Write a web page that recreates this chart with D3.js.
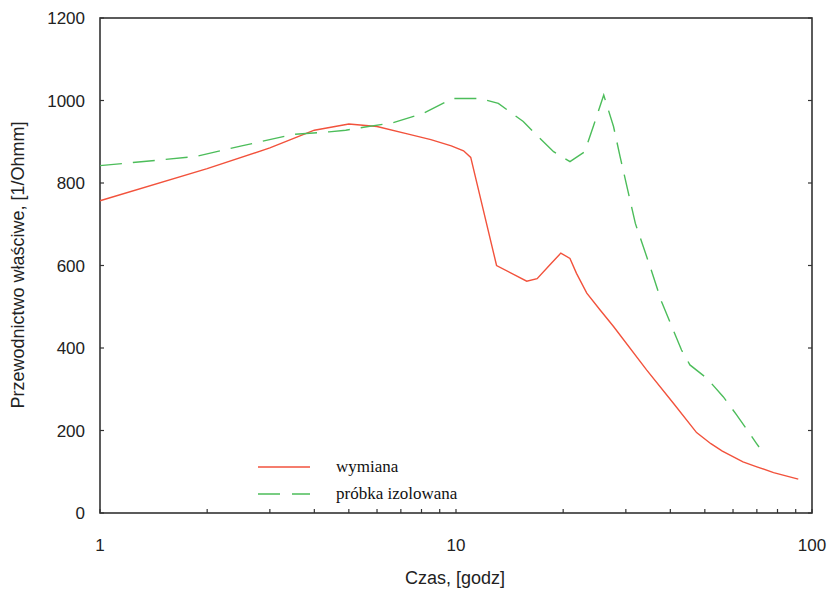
<!DOCTYPE html>
<html>
<head>
<meta charset="utf-8">
<script src="https://cdn.jsdelivr.net/npm/d3@7"></script>
<style>
  body { margin: 0; background: #fff; }
  svg { display: block; }
  .tick-label { font-family: "Liberation Sans", Arial, sans-serif; font-size: 17px; fill: #222; }
  .axis-title { font-family: "Liberation Sans", Arial, sans-serif; font-size: 18px; fill: #222; }
  .legend text { font-family: "Liberation Serif", "Times New Roman", serif; font-size: 17px; fill: #111; }
</style>
</head>
<body>
<script>
// time [h]
var wymianaX = [1, 2, 3, 3.5, 4, 5, 6, 7.3, 8.5, 9.7, 10.5, 11, 13, 15.8, 16.9, 18.5, 19.7, 20.9, 21.8, 23.3, 25.4, 27.7, 34.3, 40.8, 47.4, 52, 56, 64, 70, 78, 91.5];
var wymianaY = [757, 835, 885, 908, 928, 943, 937, 919, 905, 890, 878, 862, 600, 562, 568, 605, 630, 617, 581, 533, 492, 452, 347, 266, 195, 168, 150, 124, 112, 98, 82];

var izolX = [1, 1.85, 2.5, 3.5, 4.4, 4.9, 5.5, 6.65, 8.1, 9.8, 11.7, 13.15, 15.45, 16.85, 18.8, 20.9, 23, 24.3, 26, 27.7, 28.9, 31.9, 35.1, 37.8, 43, 45.4, 50.6, 56.3, 61.4, 69.8, 71];
var izolY = [842, 864, 890, 918, 924, 928, 935, 946, 969, 1005, 1005, 993, 949, 916, 876, 852, 876, 937, 1013, 937, 864, 702, 597, 512, 395, 359, 327, 282, 238, 169, 160];

var xTicks = [1, 10, 100];
var xMinor = [2, 3, 4, 5, 6, 7, 8, 9, 20, 30, 40, 50, 60, 70, 80, 90];
var yTicks = [0, 200, 400, 600, 800, 1000, 1200];

var series = [
  { name: "wymiana", xs: wymianaX, ys: wymianaY, color: "#f2523c", dash: null },
  { name: "próbka izolowana", xs: izolX, ys: izolY, color: "#4cbd5a", dash: "22,11" }
];

var W = 828, H = 591;
var L = 100, R = 812, T = 18, B = 513;

var svg = d3.select("body").append("svg").attr("width", W).attr("height", H);

var x = d3.scaleLog().domain([1, 100]).range([L, R]);
var y = d3.scaleLinear().domain([0, 1200]).range([B, T]);

var axisColor = "#333";

// ticks (inward)
var tk = svg.append("g").attr("stroke", axisColor).attr("stroke-width", 1.2);
xMinor.concat(xTicks).forEach(function(v) {
  tk.append("line").attr("x1", x(v)).attr("x2", x(v)).attr("y1", B).attr("y2", B - 4);
});
yTicks.forEach(function(v) {
  tk.append("line").attr("x1", L).attr("x2", L + 4).attr("y1", y(v)).attr("y2", y(v));
  tk.append("line").attr("x1", R).attr("x2", R - 4).attr("y1", y(v)).attr("y2", y(v));
});

// frame
svg.append("rect")
  .attr("x", L).attr("y", T).attr("width", R - L).attr("height", B - T)
  .attr("fill", "none").attr("stroke", axisColor).attr("stroke-width", 1.6);

// tick labels
svg.selectAll("text.ylab").data(yTicks).enter().append("text")
  .attr("class", "tick-label ylab")
  .attr("x", 85).attr("y", function(d) { return y(d); })
  .attr("dy", "0.36em").attr("text-anchor", "end")
  .text(function(d) { return d; });

svg.selectAll("text.xlab").data(xTicks).enter().append("text")
  .attr("class", "tick-label xlab")
  .attr("x", function(d) { return x(d); }).attr("y", 551)
  .attr("text-anchor", "middle")
  .text(function(d) { return d; });

// axis titles
svg.append("text").attr("class", "axis-title")
  .attr("x", 455).attr("y", 584).attr("text-anchor", "middle")
  .text("Czas, [godz]");

svg.append("text").attr("class", "axis-title")
  .attr("transform", "translate(24," + 265 + ") rotate(-90)")
  .attr("text-anchor", "middle")
  .text("Przewodnictwo właściwe, [1/Ohmm]");

// lines
var line = d3.line()
  .x(function(d) { return x(d[0]); })
  .y(function(d) { return y(d[1]); });

series.forEach(function(s) {
  var pts = d3.zip(s.xs, s.ys);
  svg.append("path")
    .datum(pts)
    .attr("d", line)
    .attr("fill", "none")
    .attr("stroke", s.color)
    .attr("stroke-width", 1.4)
    .attr("stroke-dasharray", s.dash);
});

// legend
var lg = svg.append("g").attr("class", "legend");
series.forEach(function(s, i) {
  var ly = 467 + i * 27;
  lg.append("line")
    .attr("x1", 258).attr("x2", 310).attr("y1", ly).attr("y2", ly)
    .attr("stroke", s.color).attr("stroke-width", 1.4)
    .attr("stroke-dasharray", s.dash ? "22,12" : null);
  lg.append("text").attr("x", 336).attr("y", ly + 5).text(s.name);
});
</script>
</body>
</html>
